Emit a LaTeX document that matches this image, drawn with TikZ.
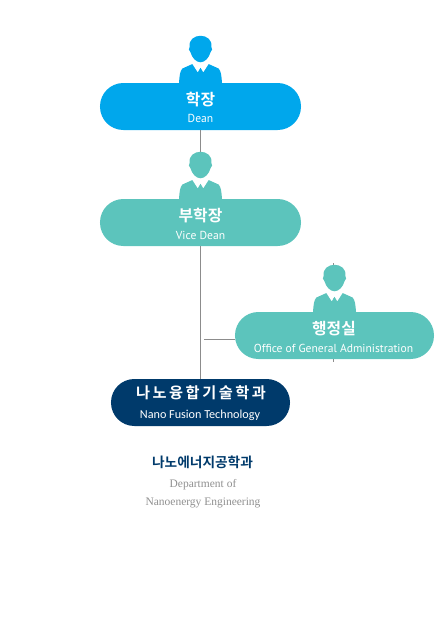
\documentclass[tikz,border=0pt]{standalone}
\usepackage{fontspec}
\usetikzlibrary{positioning}
\setmainfont{PT Sans}
\newfontfamily\krfont{Noto Sans CJK KR}[BoldFont={Noto Sans CJK KR Bold}]
\newfontfamily\latinfont{Carlito}
\newfontfamily\deptfont{Liberation Serif}
\definecolor{deanBlue}{HTML}{00A7EC}
\definecolor{officeTeal}{HTML}{5CC4BC}
\definecolor{deptNavy}{HTML}{003A6B}
\definecolor{lineGray}{HTML}{8C8C8C}
\definecolor{muted}{HTML}{8F8F8F}

\begin{document}
\begin{tikzpicture}[
  x=.03cm,y=-.03cm,
  pill/.style={text=white,rounded corners=.7cm,minimum width=6.03cm,minimum height=1.41cm,inner sep=0pt,align=center},
  link/.style={draw=lineGray,line width=.6pt},
  titleKr/.style={font=\fontsize{13.5}{15}\selectfont\krfont\bfseries,text=white,inner sep=0pt},
  titleEn/.style={font=\fontsize{9.9}{11}\selectfont,text=white,inner sep=0pt},
  person/.pic={
    \fill[white] (-8.2,-18.7) -- (-2.8,-10.3) -- (0,-15) -- (2.8,-10.3) -- (8.2,-18.7) -- (0,-24) -- cycle;
    \path[pic actions] (-21.5,0) .. controls (-21,-7) and (-20.5,-12) .. (-18,-14.3)
      -- (-8.2,-18.7) -- (-2.8,-10.3) -- (0,-15) -- (2.8,-10.3) -- (8.2,-18.7) -- (18,-14.3)
      .. controls (20.5,-12) and (21,-7) .. (21.5,0) -- cycle;
    \path[pic actions] (-10.8,-36) .. controls (-12,-43) and (-6,-47) .. (0,-47)
      .. controls (6,-47) and (12,-43) .. (10.8,-36)
      .. controls (12,-35) and (12,-31.5) .. (10,-30.5)
      .. controls (8.5,-25) and (4.5,-20.5) .. (0,-20.5)
      .. controls (-4.5,-20.5) and (-8.5,-25) .. (-10,-30.5)
      .. controls (-12,-31.5) and (-12,-35) .. (-10.8,-36) -- cycle;
  }
]
  \useasboundingbox (0,0) rectangle (435,634);

  % office tick runs behind the pill
  \coordinate (tickTop) at (333,263);
  \coordinate (tickBot) at (333,362);
  \coordinate (stubLeft) at (204,339);
  \draw[link] (tickTop) -- (tickBot);

  \node[pill,fill=deanBlue] (dean) at (200.5,106.5) {};
  \node[pill,fill=officeTeal] (vice) at (200.5,222.5) {};
  \node[pill,fill=officeTeal,minimum width=5.97cm] (office) at (334.5,335.5) {};
  \node[pill,fill=deptNavy,minimum width=5.37cm] (nano) at (200.5,402.5) {};

  \draw[link] (dean) -- (vice);
  \draw[link] (vice) -- (nano);
  \draw[link] (stubLeft) -- (stubLeft -| office.west);

  \pic[fill=deanBlue] at (dean.north) {person};
  \pic[fill=officeTeal] at (vice.north) {person};
  \pic[fill=officeTeal] at (office.north) {person};

  \node[titleKr] (deanKr) at (200.5,100) {학장};
  \node[titleEn] (deanEn) at (200.5,118) {Dean};
  \node[titleKr] (viceKr) at (200.5,216) {부학장};
  \node[titleEn] (viceEn) at (200.5,235) {Vice Dean};
  \node[titleKr] (officeKr) at (334,329) {행정실};
  \node[titleEn] (officeEn) at (333.5,348) {Office of General Administration};
  \node[titleKr,font=\fontsize{13}{15}\selectfont\krfont\bfseries] (nanoKr) at (201,393) {나\,노\,융\,합\,기\,술\,학\,과};
  \node[titleEn,font=\fontsize{10.4}{12}\selectfont\latinfont] (nanoEn) at (200,415) {Nano Fusion Technology};

  \node[font=\fontsize{11.7}{13}\selectfont\krfont\bfseries,text=deptNavy,inner sep=0pt] (deptKr) at (202.5,462) {나노에너지공학과};
  \node[font=\fontsize{9.8}{11}\selectfont\deptfont,text=muted,inner sep=0pt] (deptEn) at (203,485) {Department of};
  \node[font=\fontsize{9.8}{11}\selectfont\deptfont,text=muted,inner sep=0pt] (deptEnTwo) at (203,503) {Nanoenergy Engineering};
\end{tikzpicture}
\end{document}
